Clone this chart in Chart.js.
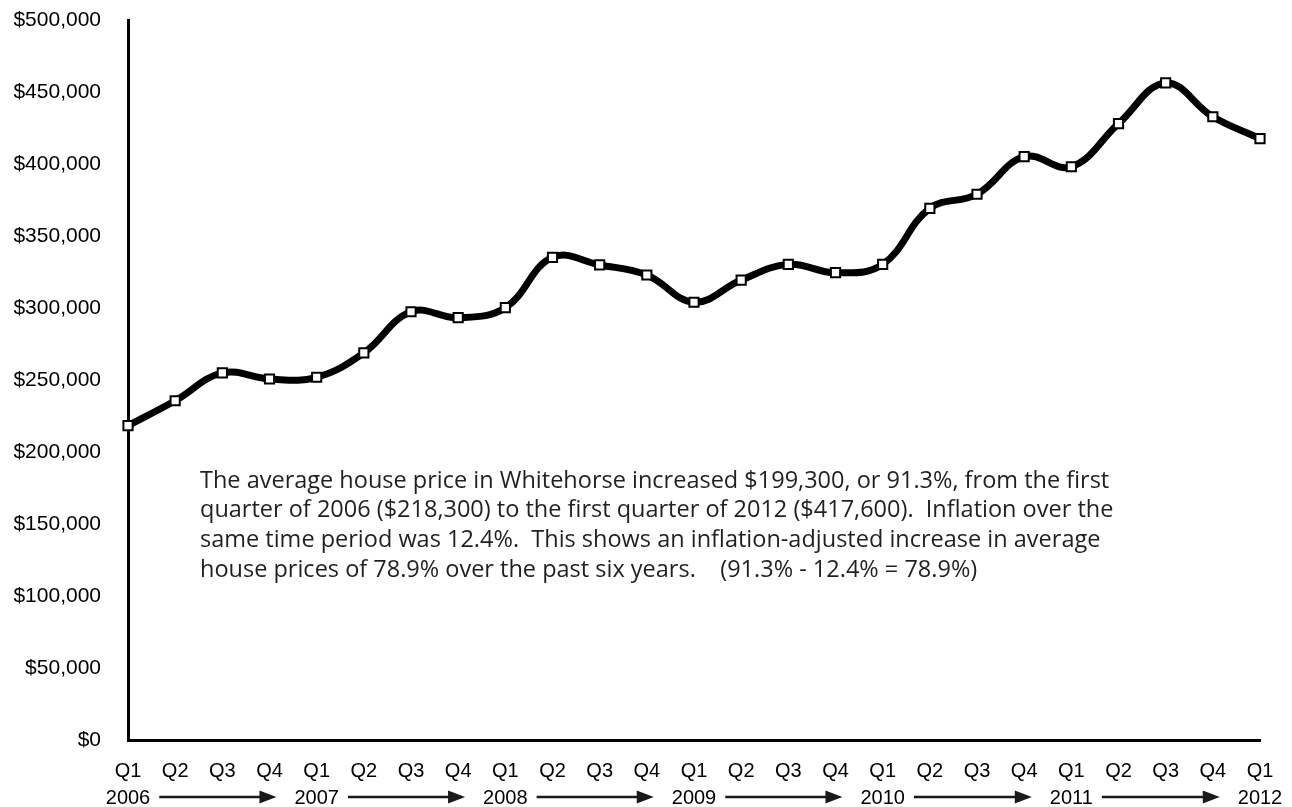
<html>
<head>
  <title>Whitehorse average house price</title>
  <style>
    body { margin: 0; background: #fff; }
  </style>
</head>
<body>

<canvas id="prices" width="1292" height="807"></canvas>

<script src="https://cdn.jsdelivr.net/npm/chart.js@4/dist/chart.umd.min.js"></script>
<script>

const quarters = ['Q1', 'Q2', 'Q3', 'Q4', 'Q1', 'Q2', 'Q3', 'Q4', 'Q1', 'Q2', 'Q3', 'Q4',
                  'Q1', 'Q2', 'Q3', 'Q4', 'Q1', 'Q2', 'Q3', 'Q4', 'Q1', 'Q2', 'Q3', 'Q4', 'Q1'];
const years = ['2006', '', '', '', '2007', '', '', '', '2008', '', '', '',
               '2009', '', '', '', '2010', '', '', '', '2011', '', '', '', '2012'];
const prices = [218300, 235600, 254900, 250700, 251900, 268800, 297400, 293300, 300200,
                335200, 329900, 322900, 304000, 319400, 330300, 324500, 330300, 369200,
                379000, 405100, 398100, 428000, 456300, 432800, 417600];

const yMin = 0;
const yMax = 500000;
const yStep = 50000;

const note = [
  'The average house price in Whitehorse increased $199,300, or 91.3%, from the first',
  'quarter of 2006 ($218,300) to the first quarter of 2012 ($417,600).  Inflation over the',
  'same time period was 12.4%.  This shows an inflation-adjusted increase in average',
  'house prices of 78.9% over the past six years.    (91.3% - 12.4% = 78.9%)'
];

const axisFont = { family: '"Liberation Sans", Arial, sans-serif', size: 21 };
const xFont = { family: '"Liberation Sans", Arial, sans-serif', size: 20, lineHeight: 1.35 };


// year arrows under the quarter labels
const yearArrows = {
  id: 'yearArrows',
  afterDraw(chart) {
    const ctx = chart.ctx;
    const x = chart.scales.x;
    const y = chart.chartArea.bottom + 57;
    ctx.save();
    ctx.font = xFont.size + 'px ' + xFont.family;
    ctx.strokeStyle = '#1a1a1a';
    ctx.fillStyle = '#1a1a1a';
    ctx.lineWidth = 2.5;

    const idx = [];
    years.forEach((yr, i) => { if (yr) idx.push(i); });

    for (let k = 0; k < idx.length - 1; k++) {
      const a = idx[k], b = idx[k + 1];
      const x1 = x.getPixelForValue(a) + ctx.measureText(years[a]).width / 2 + 9;
      const x2 = x.getPixelForValue(b) - ctx.measureText(years[b]).width / 2 - 18;
      ctx.beginPath();
      ctx.moveTo(x1, y);
      ctx.lineTo(x2 - 12, y);
      ctx.stroke();
      ctx.beginPath();
      ctx.moveTo(x2, y);
      ctx.lineTo(x2 - 17, y - 6.5);
      ctx.lineTo(x2 - 17, y + 6.5);
      ctx.closePath();
      ctx.fill();
    }
    ctx.restore();
  }
};

// explanatory paragraph inside the plot
const noteText = {
  id: 'noteText',
  afterDraw(chart) {
    const ctx = chart.ctx;
    ctx.save();
    ctx.font = '23.5px "Open Sans", sans-serif';
    ctx.fillStyle = '#231f20';
    ctx.textBaseline = 'middle';
    note.forEach((line, i) => {
      ctx.fillText(line, 200, 481 + i * 29.7);
    });
    ctx.restore();
  }
};


function createChart(canvas_id)
{
  const ctx = document.getElementById(canvas_id);

  new Chart(ctx, {
    type: 'line',
    data: {
      labels: quarters,
      datasets: [
        {
          data: prices,
          borderColor: '#000',
          borderWidth: 7,
          tension: 0.4,
          clip: false,
          pointStyle: 'rect',
          pointRadius: 6.5,
          pointBorderWidth: 2,
          pointBackgroundColor: '#fff',
          pointBorderColor: '#000',
        }
      ],
    },
    options: {
      responsive: false,
      animation: false,
      layout: { padding: { top: 20, right: 32, left: 0, bottom: 0 } },
      plugins: {
        legend: { display: false },
        tooltip: { enabled: false },
      },
      scales: {
        x: {
          offset: false,
          // hidden tick marks: their length only spaces the labels from the axis
          grid: { display: false, drawTicks: true, tickLength: 18 },
          border: { display: true, color: '#000', width: 3 },
          ticks: {
            autoSkip: false,
            maxRotation: 0,
            padding: 0,
            color: '#000',
            font: xFont,
            callback: (v, i) => [quarters[i], years[i]],
          },
          afterFit: (scale) => { scale.height = 67; },
        },
        y: {
          min: yMin,
          max: yMax,
          grid: { display: false, drawTicks: true, tickLength: 27 },
          border: { display: true, color: '#000', width: 3 },
          ticks: {
            stepSize: yStep,
            padding: 0,
            color: '#000',
            font: axisFont,
            callback: (v) => '$' + v.toLocaleString('en-US'),
          },
          afterFit: (scale) => { scale.width = 128; },
        }
      }
    },
    plugins: [yearArrows, noteText],
  });
}

createChart('prices');

</script>

</body>
</html>
